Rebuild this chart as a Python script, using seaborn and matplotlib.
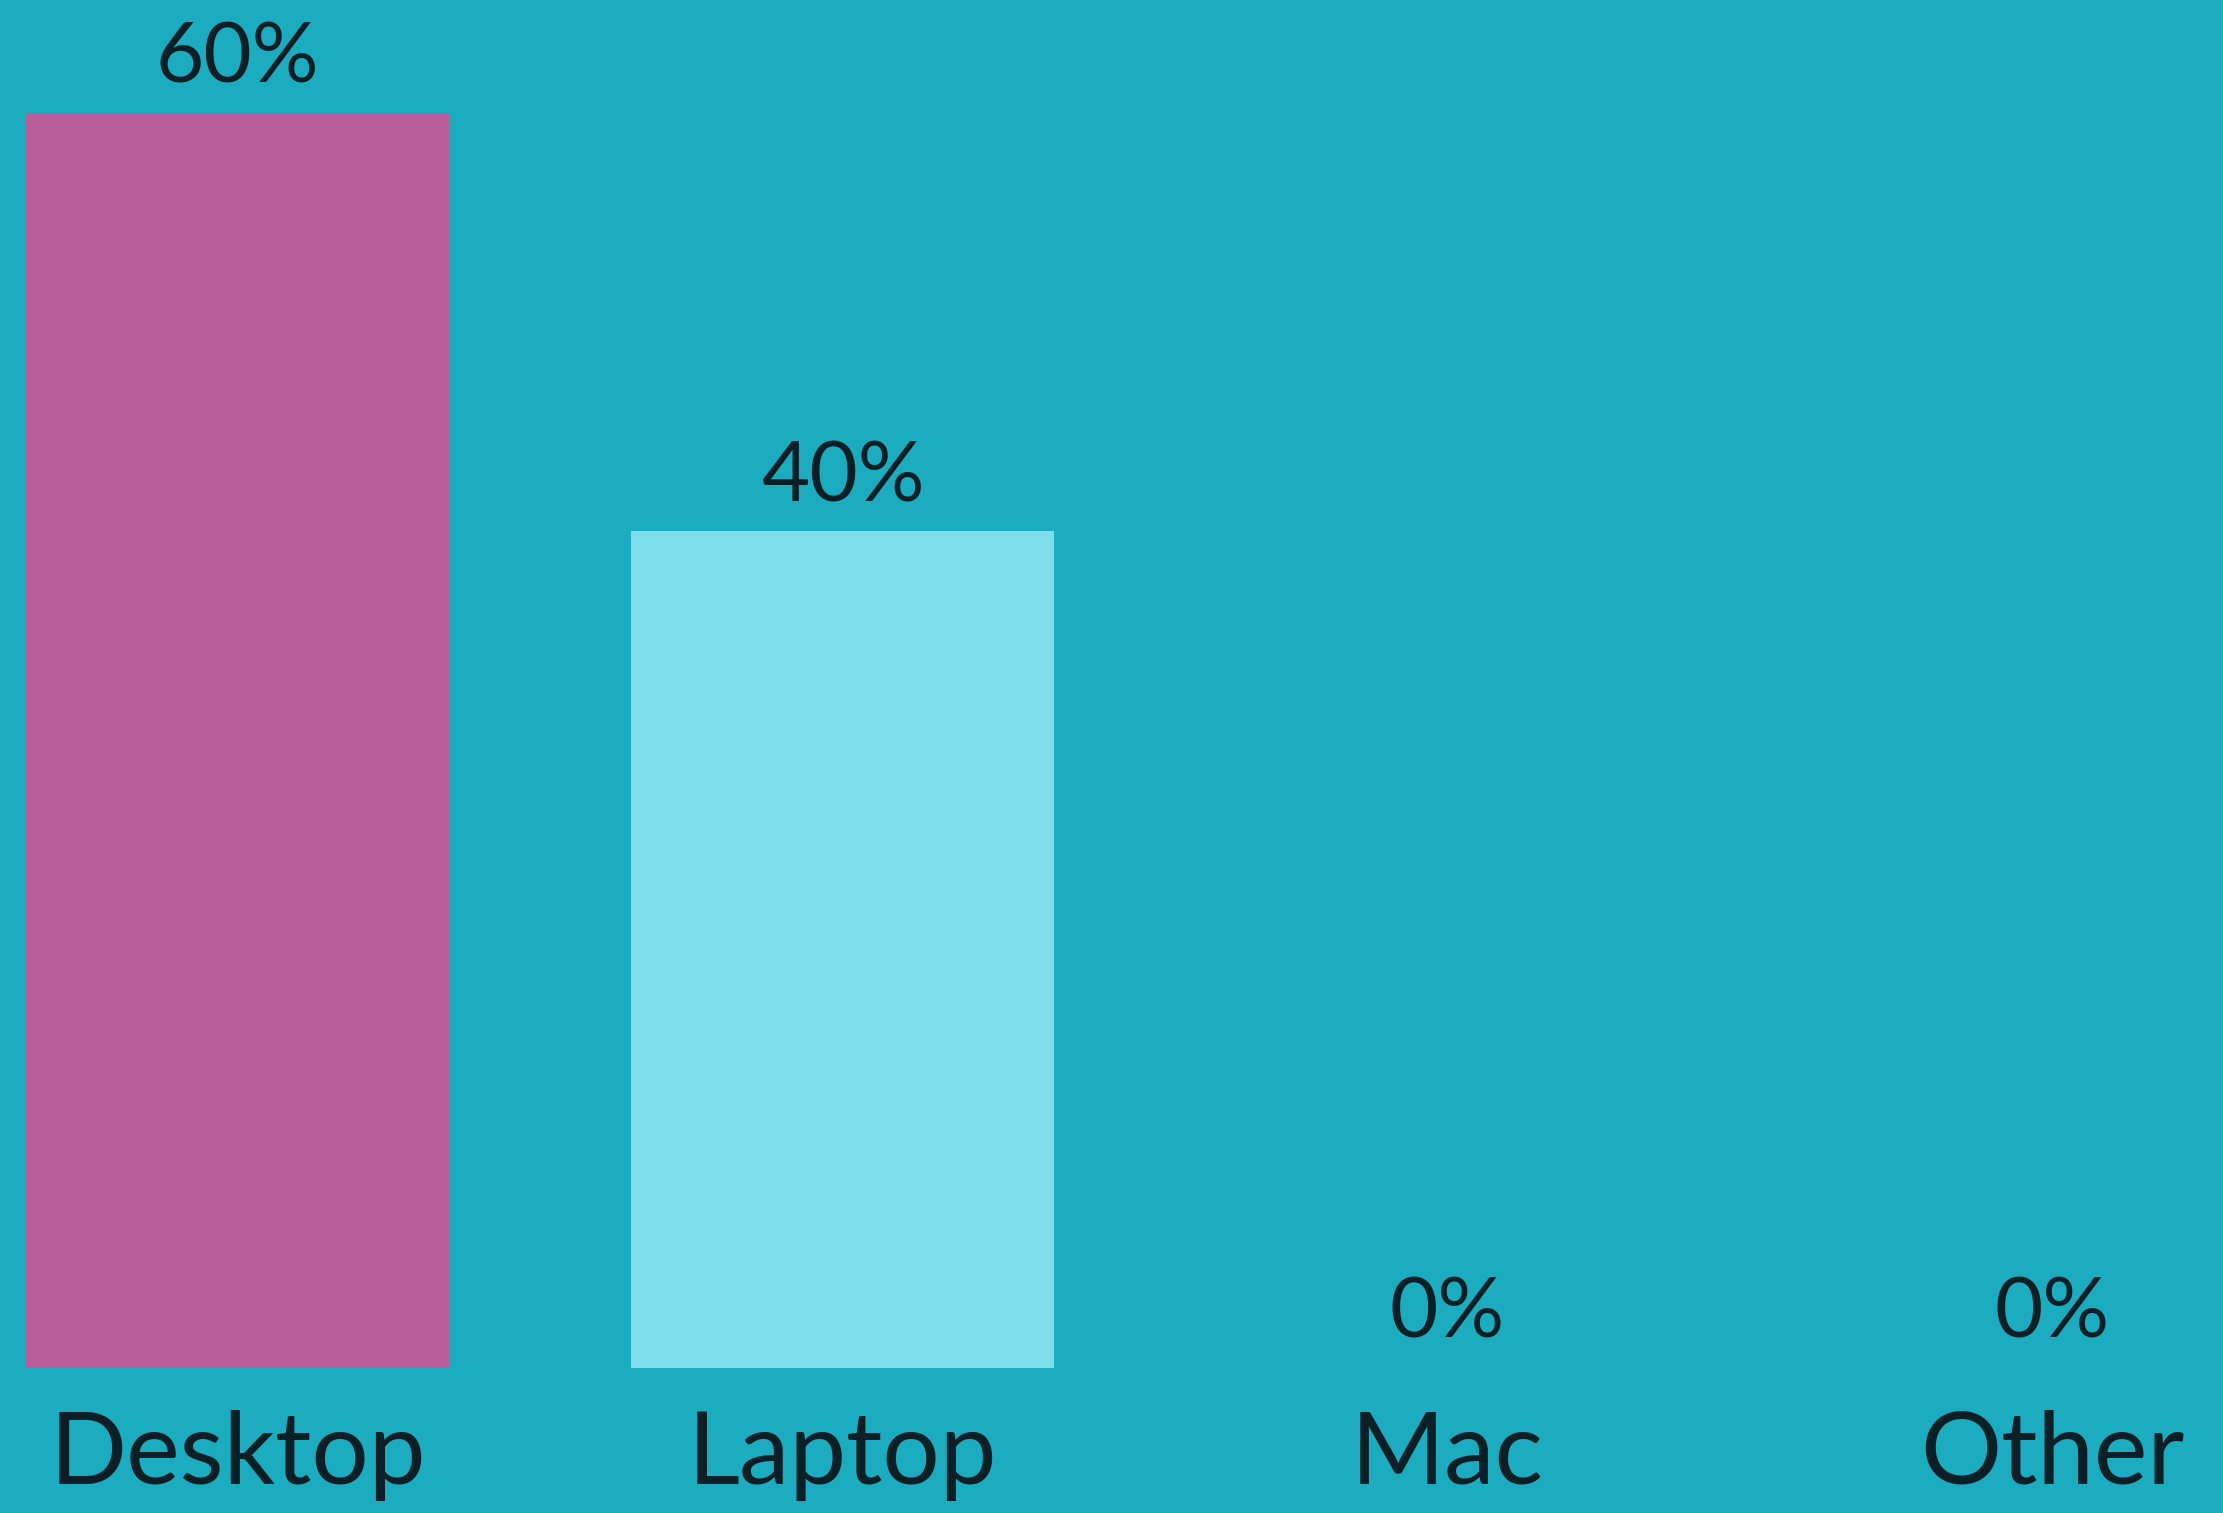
import matplotlib
matplotlib.use("Agg")
import matplotlib.pyplot as plt
import seaborn as sns
import pandas as pd

# Share of devices used
devices = ["Desktop", "Laptop", "Mac", "Other"]
shares = [60, 40, 0, 0]
bar_colors = ["#B95E9A", "#7EDDEA", "#2E8FA0", "#2E8FA0"]

bg = "#1CACBF"
ink = "#0B1F26"

sns.set_theme(style="white")
plt.rcParams["font.family"] = ["Lato", "DejaVu Sans"]

df = pd.DataFrame({"device": devices, "share": shares})

fig = plt.figure(figsize=(22.23, 15.13), dpi=100)
fig.patch.set_facecolor(bg)
ax = fig.add_axes([0, 0.0958, 1, 0.9042])
ax.set_facecolor(bg)

sns.barplot(data=df, x="device", y="share", hue="device",
            palette=dict(zip(devices, bar_colors)), width=0.7,
            legend=False, ax=ax, saturation=1, linewidth=0, edgecolor="none")

for container in ax.containers:
    ax.bar_label(container, labels=[f"{v:.0f}%" for v in container.datavalues],
                 padding=11, fontsize=60, color=ink)

ax.set_xlim(-0.393, 3.282)
ax.set_ylim(0, 65.4)
ax.set_xlabel("")
ax.set_ylabel("")
ax.set_yticks([])
ax.tick_params(axis="x", length=0, pad=30, labelsize=73, labelcolor=ink)
for s in ax.spines.values():
    s.set_visible(False)

fig.savefig("out.png", dpi=100, facecolor=bg)
